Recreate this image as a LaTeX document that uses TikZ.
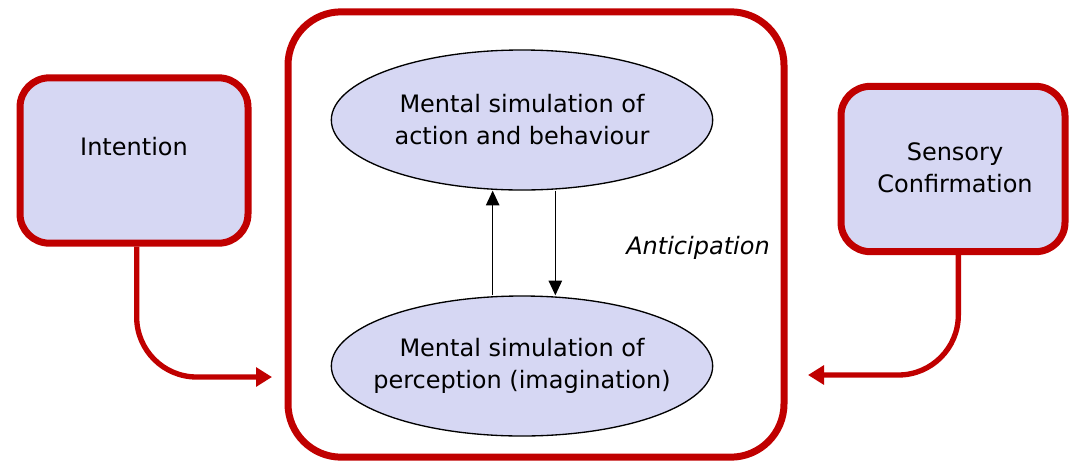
\documentclass[tikz,border=0pt]{standalone}
\usepackage{fontspec}
\setmainfont{DejaVu Sans}
\usetikzlibrary{arrows.meta,positioning,shapes.geometric}
\definecolor{FrameRed}{HTML}{C00000}
\definecolor{SimFill}{HTML}{D6D7F3}

\begin{document}
\begin{tikzpicture}[x=0.75pt,y=-0.75pt,
  font=\fontsize{18}{24}\selectfont,
  box/.style={draw=FrameRed,fill=SimFill,line width=5.25pt,rounded corners=22pt,minimum width=171pt,minimum height=124pt},
  sim/.style={ellipse,draw,fill=SimFill,line width=1pt,minimum width=286pt,minimum height=105pt,align=center,inner xsep=-60pt,inner ysep=-20pt},
  ra/.style={-{Triangle[length=12pt,width=14pt]},line width=4pt,draw=FrameRed,rounded corners=45pt},
  a/.style={-{Triangle[length=11pt,width=10pt]},line width=1.1pt}]
\useasboundingbox (0,0) rectangle (1071,461);
\node[box,rounded corners=40pt,fill=none,minimum width=372pt,minimum height=334pt] (frame) at (536,234.5) {};
\node[box] (int) at (134,160.5) {};
\node[box,minimum width=168pt] (conf) at (953,169) {};
\node (intt) at (134,147) {Intention};
\node[align=center] (conft) at (955,168) {Sensory\\Confirmation};
\node[sim] (act) at (522,120) {Mental simulation of\\action and behaviour};
\node[sim] (per) at (522,366) {Mental simulation of\\perception (imagination)};
\node (ant) at (698,248) {\itshape Anticipation};
\draw[a] ([xshift=-22pt]per.north) -- ([xshift=-22pt]act.south);
\draw[a] ([xshift=25pt]act.south) -- ([xshift=25pt]per.north);
\coordinate (inl) at (272,377);
\coordinate (inr) at (808,375);
\draw[ra] ([xshift=2pt]int.south) |- (inl);
\draw[ra] ([xshift=4pt]conf.south) |- (inr);
\end{tikzpicture}
\end{document}
